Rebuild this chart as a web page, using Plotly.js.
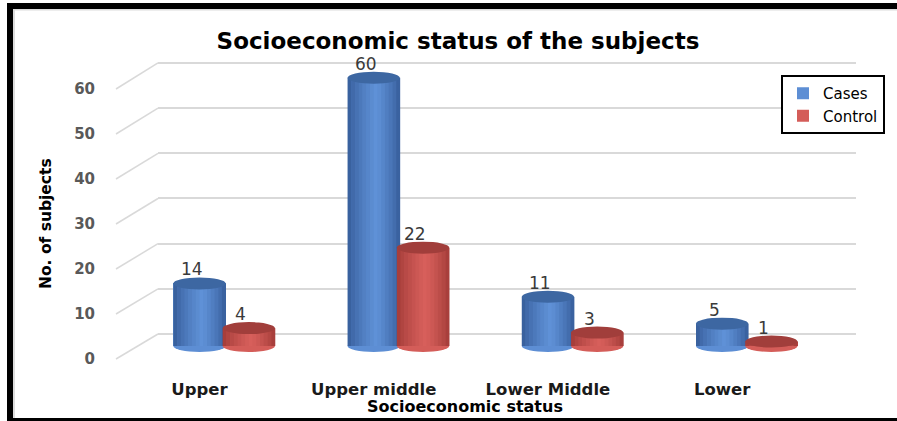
<!DOCTYPE html>
<html><head><meta charset="utf-8">
<script src="https://cdn.plot.ly/plotly-3.0.1.min.js"></script>
<style>html,body{margin:0;padding:0;background:#fff}</style>
</head><body><div id="chart" style="width:897px;height:421px"></div>
<script>
// ---- data ----
const categories = ["Upper", "Upper middle", "Lower Middle", "Lower"];
const cases = [14, 60, 11, 5];
const control = [4, 22, 3, 1];
const seriesNames = ["Cases", "Control"];
const yTicks = [0, 10, 20, 30, 40, 50, 60];
const chartTitle = "Socioeconomic status of the subjects";
const xTitle = "Socioeconomic status";
const yTitle = "No. of subjects";

// ---- layout geometry (pixels) ----
const W = 897, H = 421;
const px = x => x / W, py = y => 1 - y / H;
const TOP = 55, BOT = 370, LEFT = 158, RIGHT = 856;
const FRONT0 = 346, FRONTU = 4.47;   // bar (front) plane
const BACK0 = 334, BACKU = 4.517;    // gridline (back) plane
const LAB0 = 359, LABU = 4.5;        // tick label plane
const rangeFrom = (z, u) => [(z - BOT) / u, (z - TOP) / u];
const CAT0 = 199.5, CATU = 174.2;
const FONT = "DejaVu Sans";

const BW = 0.3;
const EH = 6 / FRONTU;
const styles = [
  {offset: -0.15, dark: [50, 88, 148], light: [96, 146, 216], top: "#3D67A2"},
  {offset: 0.133, dark: [158, 56, 53], light: [216, 96, 92], top: "#A13E3B"}
];
const seriesValues = [cases, control];

function grad(s, t) {
  const peak = 0.55;
  const f = t < peak ? t / peak : (1 - t) / (1 - peak);
  const e = Math.pow(f, 0.7);
  const c = s.dark.map((d, k) => Math.round(d + (s.light[k] - d) * e));
  return `rgb(${c[0]},${c[1]},${c[2]})`;
}

const shapes = [];
// back-plane to front diagonals for each gridline
yTicks.forEach(v => shapes.push({
  type: "line", xref: "paper", yref: "paper",
  x0: px(116), y0: py(LAB0 - LABU * v), x1: px(LEFT), y1: py(BACK0 - BACKU * v),
  line: {color: "#d9d9d9", width: 1.5}, layer: "below"
}));

// cylinders
seriesValues.forEach((vals, si) => {
  const s = styles[si];
  vals.forEach((v, i) => {
    const x0 = i + s.offset, x1 = x0 + BW;
    shapes.push({type: "circle", xref: "x", yref: "y", x0, x1, y0: -EH, y1: EH,
      fillcolor: grad(s, 0.5), line: {width: 0}, layer: "above"});
    const N = 14;
    for (let k = 0; k < N; k++) {
      shapes.push({type: "rect", xref: "x", yref: "y",
        x0: x0 + k * BW / N, x1: x0 + (k + 1) * BW / N + 0.002, y0: 0, y1: v,
        fillcolor: grad(s, (k + 0.5) / N), line: {width: 0}, layer: "above"});
    }
    shapes.push({type: "circle", xref: "x", yref: "y", x0, x1, y0: v - EH, y1: v + EH,
      fillcolor: s.top, line: {width: 0}, layer: "above"});
  });
});

// outer frame
const rectPx = (x0, y0, x1, y1, c) => ({type: "rect", xref: "paper", yref: "paper",
  x0: px(x0), x1: px(x1), y0: py(y1), y1: py(y0), fillcolor: c, line: {width: 0}, layer: "above"});
shapes.push(rectPx(13, 9, 15, 418, "#dcdcdc"), rectPx(13, 9, 897, 10.5, "#dcdcdc"));
shapes.push(rectPx(7, 3, 897, 9, "#000"), rectPx(7, 3, 13, 421, "#000"), rectPx(7, 418, 897, 421, "#000"));

// data labels
const annotations = [];
seriesValues.forEach((vals, si) => {
  const s = styles[si];
  vals.forEach((v, i) => annotations.push({
    x: i + s.offset + BW / 2, y: v, xref: "x", yref: "y", text: String(v),
    showarrow: false, yanchor: "bottom", yshift: 2, xshift: -8,
    font: {family: FONT, size: 17, color: "#3a3a3a"}
  }));
});
annotations.push({text: xTitle, xref: "paper", yref: "paper", x: px(465), y: py(406),
  showarrow: false, xanchor: "center", yanchor: "middle",
  font: {family: FONT, size: 16, weight: "bold", color: "#000"}});
annotations.push({text: yTitle, xref: "paper", yref: "paper", x: px(46), y: py(224),
  showarrow: false, textangle: -90, xanchor: "center", yanchor: "middle",
  font: {family: FONT, size: 15.5, weight: "bold", color: "#000"}});

const traces = seriesValues.map((vals, si) => ({
  type: "bar", name: seriesNames[si], x: categories, y: vals,
  offset: styles[si].offset, width: BW, legendgroup: "g" + si,
  marker: {color: grad(styles[si], 0.5)}, xaxis: "x", yaxis: "y"
}));
// invisible helper traces to activate the overlay axes
traces.push({type: "scatter", x: [categories[0]], y: [0], xaxis: "x", yaxis: "y2",
  mode: "markers", marker: {opacity: 0}, showlegend: false, hoverinfo: "skip"});
traces.push({type: "scatter", x: [categories[0]], y: [0], xaxis: "x", yaxis: "y3",
  mode: "markers", marker: {opacity: 0}, showlegend: false, hoverinfo: "skip"});

const layout = {
  width: W, height: H,
  margin: {l: 0, r: 0, t: 0, b: 0},
  paper_bgcolor: "#fff", plot_bgcolor: "rgba(0,0,0,0)",
  title: {text: chartTitle, xref: "container", yref: "container", x: px(458), y: py(41),
    xanchor: "center", yanchor: "middle",
    font: {family: FONT, size: 23, weight: "bold", color: "#000"}},
  xaxis: {type: "category", domain: [px(LEFT), px(RIGHT)],
    range: [(LEFT - CAT0) / CATU, (RIGHT - CAT0) / CATU],
    showgrid: false, zeroline: false, showline: false, ticks: "",
    ticklabelstandoff: 7,
    tickfont: {family: FONT, size: 16.5, weight: "bold", color: "#1a1a1a"}},
  yaxis: {domain: [py(BOT), py(TOP)], range: rangeFrom(FRONT0, FRONTU),
    showgrid: false, zeroline: false, showticklabels: false, showline: false},
  yaxis2: {overlaying: "y", range: rangeFrom(BACK0, BACKU), tickvals: yTicks,
    showgrid: true, gridcolor: "#d9d9d9", gridwidth: 2, zeroline: false,
    showticklabels: false, showline: false},
  yaxis3: {overlaying: "y", anchor: "free", position: px(95), side: "left",
    range: rangeFrom(LAB0, LABU), tickvals: yTicks, showgrid: false, zeroline: false,
    showline: false, ticks: "",
    tickfont: {family: FONT, size: 15, weight: "bold", color: "#595959"}},
  legend: {x: px(781), y: py(75), xanchor: "left", yanchor: "top",
    bgcolor: "#fff", bordercolor: "#000", borderwidth: 2,
    tracegroupgap: 6, traceorder: "normal",
    font: {family: FONT, size: 15, color: "#000"}},
  showlegend: true,
  shapes, annotations, bargap: 0
};

Plotly.newPlot("chart", traces, layout, {displayModeBar: false, staticPlot: true});
</script>
</body></html>
